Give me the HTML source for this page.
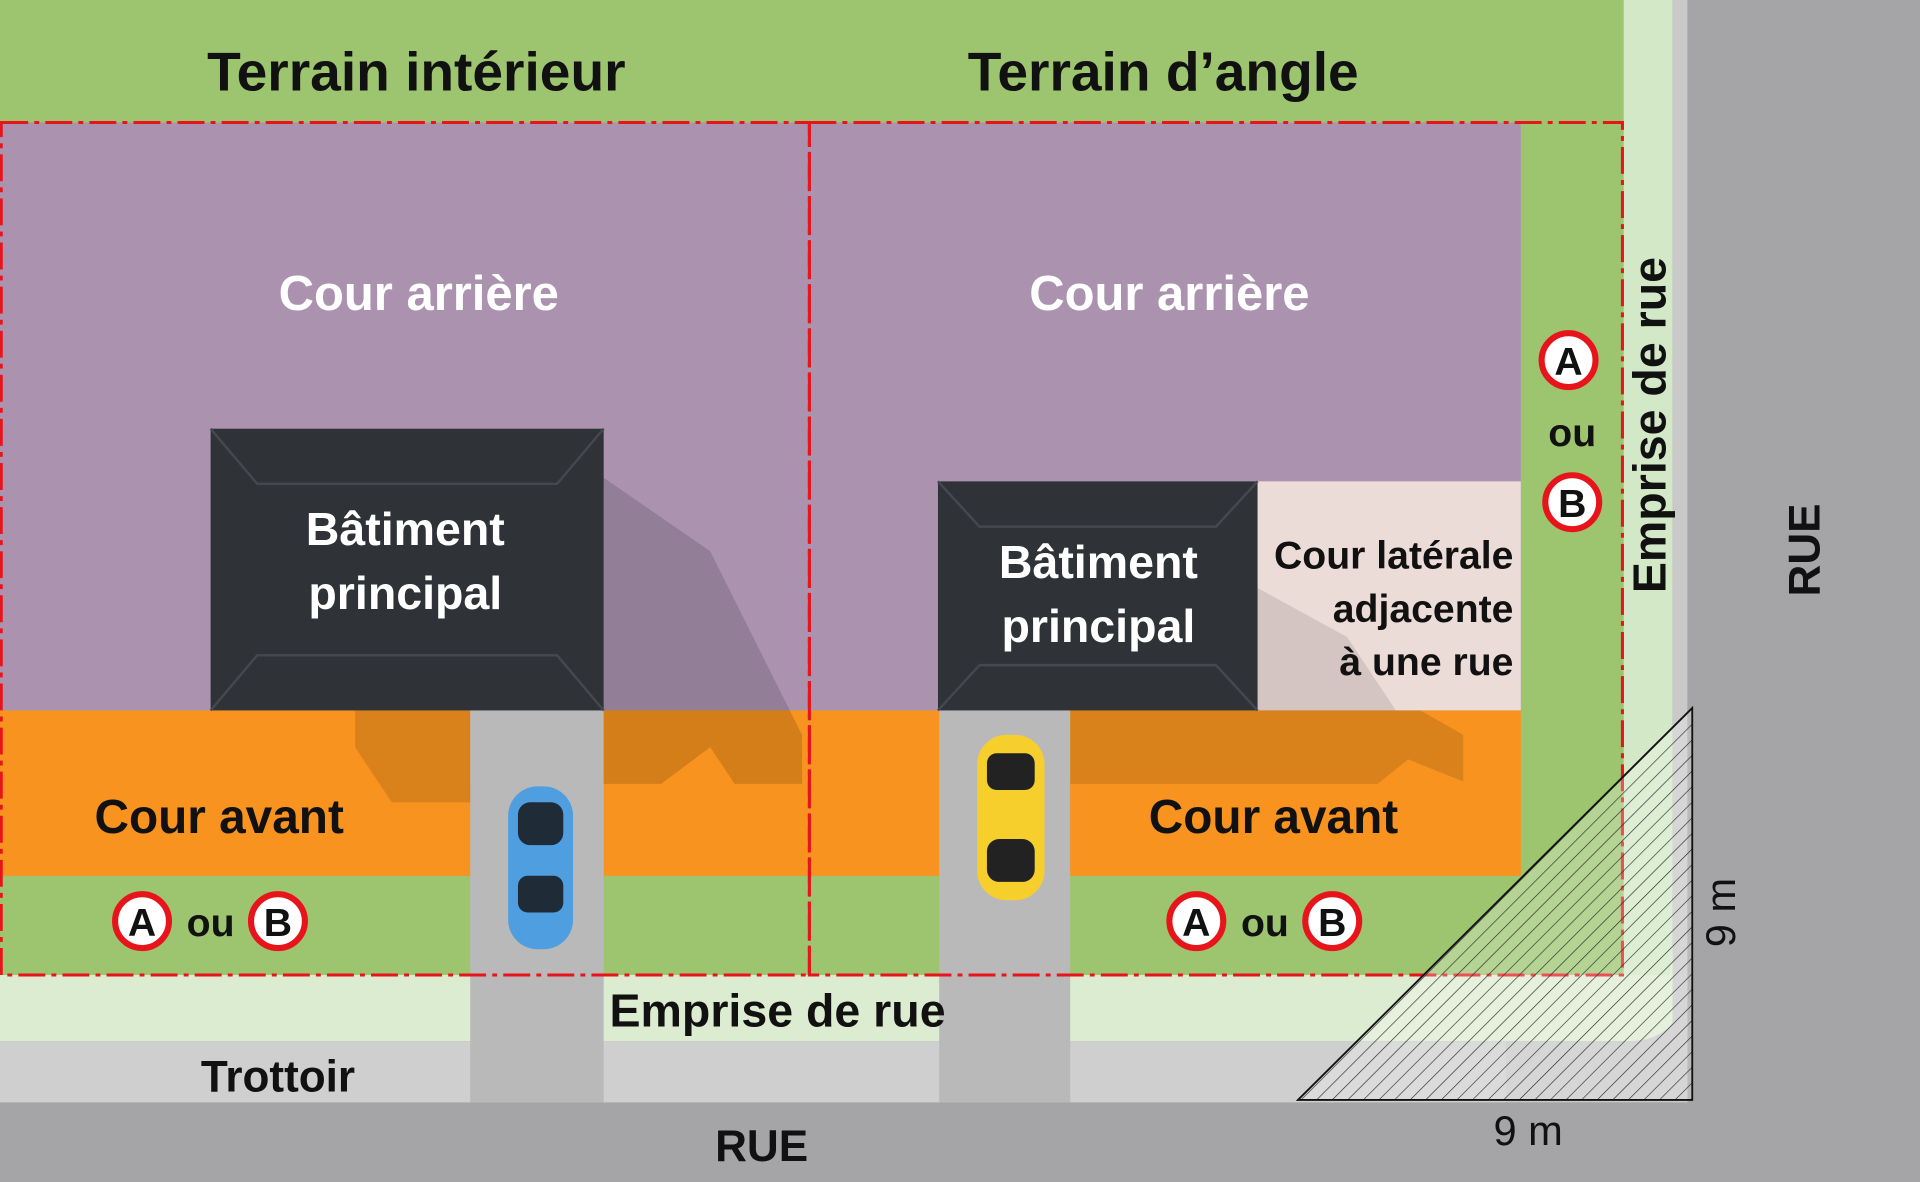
<!DOCTYPE html>
<html><head><meta charset="utf-8"><style>html,body{margin:0;padding:0;background:#a3a3a5}svg{display:block}text{font-family:"Liberation Sans",sans-serif;font-weight:bold}</style></head>
<body>
<svg width="1920" height="1182" viewBox="0 0 1568 965" preserveAspectRatio="none" xmlns="http://www.w3.org/2000/svg">
<defs>
<pattern id="h" patternUnits="userSpaceOnUse" width="9" height="9" patternTransform="rotate(45)">
<line x1="0" y1="0" x2="0" y2="9" stroke="#222" stroke-width="1"/></pattern>
</defs>
<rect x="0" y="0" width="1568" height="965" fill="#a5a5a7"/>
<rect x="0" y="0" width="1326" height="796" fill="#9dc46f"/>
<rect x="1326" y="0" width="40" height="796" fill="#d2e8c6"/>
<rect x="1366" y="0" width="12" height="900" fill="#c9c9c9"/>
<rect x="0" y="796" width="1366" height="54" fill="#dcecd0"/>
<path d="M1326 796 H1366 V800 Q1366 850 1330 850 H1326Z" fill="#dcecd0"/>
<rect x="0" y="850" width="1230" height="50" fill="#cfcfcf"/>
<path d="M1230 850 H1330 Q1378 850 1378 790 V900 H1230Z" fill="#c8c8c8"/>
<path d="M1290 850 Q1366 850 1366 770 V796 Q1366 850 1310 850Z" fill="#dcecd0"/>
<rect x="0" y="100" width="661" height="480" fill="#ab93b0"/>
<rect x="661" y="100" width="581" height="480" fill="#ab93b0"/>
<rect x="1027" y="393" width="215" height="187" fill="#ecdcd8"/>
<rect x="0" y="580" width="661" height="135" fill="#f7931e"/>
<rect x="661" y="580" width="581" height="135" fill="#f7931e"/>
<rect x="384" y="580" width="109" height="320" fill="#b9b9b9"/>
<rect x="767" y="580" width="107" height="320" fill="#b9b9b9"/>
<path d="M493 390 L580 450 L655 600 L655 640 L600 640 L580 610 L540 640 L493 640Z" fill="#000" opacity="0.14"/>
<path d="M290 580 L384 580 L384 655 L320 655 L290 610Z" fill="#000" opacity="0.12"/>
<path d="M874 580 L1160 580 L1195 600 L1195 638 L1150 620 L1125 640 L874 640Z" fill="#000" opacity="0.12"/>
<path d="M1027 480 L1100 520 L1140 580 L1027 580Z" fill="#000" opacity="0.1"/>
<rect x="172" y="350" width="321" height="230" fill="#2f3338"/>
<path d="M172 350 L210 395 L455 395 L493 350 M172 580 L210 535 L455 535 L493 580" stroke="#45494f" stroke-width="2" fill="none"/>
<rect x="766" y="393" width="261" height="187" fill="#2f3338"/>
<path d="M766 393 L800 430 L993 430 L1027 393 M766 580 L800 543 L993 543 L1027 580" stroke="#45494f" stroke-width="2" fill="none"/>
<g fill="none" stroke="#e8141c" stroke-width="2.5" stroke-dasharray="22 5 4 5">
<rect x="1" y="100" width="660" height="696"/>
<rect x="661" y="100" width="664" height="696"/>
</g>
<polygon points="1060,898 1382,578 1382,898" fill="#ffffff" opacity="0.25"/>
<polygon points="1060,898 1382,578 1382,898" fill="url(#h)" stroke="#111" stroke-width="1.5"/>
<rect x="415" y="642" width="53" height="133" rx="24" fill="#4f9fe0"/>
<rect x="423" y="655" width="37" height="35" rx="10" fill="#1f2c38"/>
<rect x="423" y="715" width="37" height="30" rx="8" fill="#1f2c38"/>
<rect x="798" y="600" width="55" height="135" rx="24" fill="#f6cf2c"/>
<rect x="806" y="615" width="39" height="30" rx="8" fill="#222"/>
<rect x="806" y="685" width="39" height="35" rx="10" fill="#222"/>
<text x="340" y="74" font-size="45" text-anchor="middle" fill="#111">Terrain intérieur</text>
<text x="950" y="74" font-size="45" text-anchor="middle" fill="#111">Terrain d’angle</text>
<text x="342" y="253" font-size="40" text-anchor="middle" fill="#fff">Cour arrière</text>
<text x="955" y="253" font-size="40" text-anchor="middle" fill="#fff">Cour arrière</text>
<text x="331" y="445" font-size="38" text-anchor="middle" fill="#fff">Bâtiment</text>
<text x="331" y="497" font-size="38" text-anchor="middle" fill="#fff">principal</text>
<text x="897" y="472" font-size="38" text-anchor="middle" fill="#fff">Bâtiment</text>
<text x="897" y="524" font-size="38" text-anchor="middle" fill="#fff">principal</text>
<text x="1236" y="464" font-size="32" text-anchor="end" fill="#111">Cour latérale</text>
<text x="1236" y="508" font-size="32" text-anchor="end" fill="#111">adjacente</text>
<text x="1236" y="551" font-size="32" text-anchor="end" fill="#111">à une rue</text>
<text x="179" y="680" font-size="39" text-anchor="middle" fill="#111">Cour avant</text>
<text x="1040" y="680" font-size="39" text-anchor="middle" fill="#111">Cour avant</text>
<g font-size="32" text-anchor="middle" fill="#111">
<circle cx="116" cy="752" r="22" fill="#fff" stroke="#e8141c" stroke-width="5"/><text x="116" y="764">A</text>
<text x="172" y="764">ou</text>
<circle cx="227" cy="752" r="22" fill="#fff" stroke="#e8141c" stroke-width="5"/><text x="227" y="764">B</text>
<circle cx="977" cy="752" r="22" fill="#fff" stroke="#e8141c" stroke-width="5"/><text x="977" y="764">A</text>
<text x="1033" y="764">ou</text>
<circle cx="1088" cy="752" r="22" fill="#fff" stroke="#e8141c" stroke-width="5"/><text x="1088" y="764">B</text>
<circle cx="1281" cy="294" r="22" fill="#fff" stroke="#e8141c" stroke-width="5"/><text x="1281" y="306">A</text>
<text x="1284" y="364">ou</text>
<circle cx="1284" cy="410" r="22" fill="#fff" stroke="#e8141c" stroke-width="5"/><text x="1284" y="422">B</text>
</g>
<text x="635" y="838" font-size="38" text-anchor="middle" fill="#111">Emprise de rue</text>
<text x="227" y="891" font-size="36" text-anchor="middle" fill="#111">Trottoir</text>
<text x="622" y="948" font-size="36" text-anchor="middle" fill="#111">RUE</text>
<text x="1248" y="935" font-size="34" text-anchor="middle" fill="#111" style="font-weight:normal">9 m</text>
<text transform="translate(1360,347) rotate(-90)" font-size="38" text-anchor="middle" fill="#111">Emprise de rue</text>
<text transform="translate(1486,449) rotate(-90)" font-size="36" text-anchor="middle" fill="#111">RUE</text>
<text transform="translate(1417,745) rotate(-90)" font-size="34" text-anchor="middle" fill="#111" style="font-weight:normal">9 m</text>
</svg>
</body></html>
